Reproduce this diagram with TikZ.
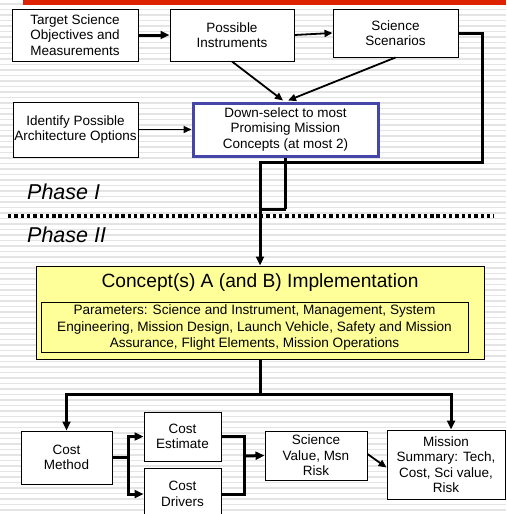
\documentclass[tikz,border=0pt]{standalone}
\usepackage{fontspec}
\setmainfont{Liberation Sans}
\usetikzlibrary{arrows.meta,calc}
\definecolor{stripe}{HTML}{E4E4E4}
\definecolor{topred}{HTML}{DD2200}
\definecolor{selblue}{HTML}{4646A8}
\definecolor{paleyellow}{HTML}{FFFF99}
\tikzset{
  x=1pt,y=-1pt,
  box/.style={draw=black,line width=1pt,fill=white,inner sep=0pt,align=center,
    font=\fontsize{13.5}{15.5}\selectfont},
  tharr/.style={line width=3pt,-{Triangle[length=9pt,width=8pt]}},
  thline/.style={line width=3pt},
  tnarr/.style={line width=1.8pt,-{Triangle[length=8pt,width=7pt]}},
  phase/.style={anchor=west,inner sep=0pt,font=\fontsize{21.5}{24}\selectfont\itshape},
}
\begin{document}
\begin{tikzpicture}
\useasboundingbox (0,0) rectangle (506,514);
\clip (0,0) rectangle (506,514);
\fill[white] (0,0) rectangle (506,514);
\foreach \k in {0,...,93}{
  \fill[stripe] (0,{\k*5.5+3}) rectangle (506,{\k*5.5+4.6});
}
\fill[topred] (23,0) rectangle (506,4.5);

% Phase I boxes
\node[box,minimum width=126,minimum height=52] (tgt) at (75,35) {Target Science\\Objectives and\\Measurements};
\node[box,minimum width=124,minimum height=52] (ins) at (232,35) {Possible\\Instruments};
\node[box,minimum width=125,minimum height=48] (scn) at (395.5,33) {Science\\Scenarios};
\node[box,minimum width=125,minimum height=55] (idf) at (75.5,129.5) {Identify Possible\\Architecture Options};
\node[box,draw=selblue,line width=3pt,minimum width=185,minimum height=53] (dsel) at (285.5,129.5) {Down-select to most\\Promising Mission\\Concepts (at most 2)};

% Phase labels and divider
\node[phase] (ph1) at (27,192) {Phase I};
\node[phase] (ph2) at (27,235) {Phase II};
\coordinate (dl) at (8,216);
\coordinate (dr) at (494,216);

% Phase II
\node[draw=black,line width=1pt,fill=paleyellow,minimum width=448,minimum height=93,inner sep=0pt] (concept) at (260,312.5) {};
\node[inner sep=0pt,font=\fontsize{19.2}{22}\selectfont] (ctitle) at (260,283) {Concept(s) A (and B) Implementation};
\node[draw=black,line width=1pt,minimum width=427,minimum height=50,inner sep=0pt,align=center,
  font=\fontsize{13.6}{16.3}\selectfont] (params) at (254.5,327.5)
  {Parameters: Science and Instrument, Management, System\\Engineering, Mission Design, Launch Vehicle, Safety and Mission\\Assurance, Flight Elements, Mission Operations};

\node[box,minimum width=91,minimum height=53] (cm) at (66.5,457.5) {Cost\\Method};
\node[box,minimum width=77,minimum height=49] (ce) at (182.5,436.5) {Cost\\Estimate};
\node[box,minimum width=77,minimum height=52,text depth=0pt] (cd) at (182.5,494) {Cost\\Drivers};
\node[box,minimum width=102,minimum height=49] (sv) at (316,455.5) {Science\\Value, Msn\\Risk};
\node[box,minimum width=118,minimum height=69] (ms) at (446,464.5) {Mission\\Summary: Tech,\\Cost, Sci value,\\Risk};

% connectors Phase I
\draw[tharr] (tgt.east) -- (ins.west);
\draw[tnarr] (ins.east) -- (scn.west);
\draw[tnarr] (ins.south) -- ($(dsel.north)+(-2.5,-1)$);
\draw[tnarr] (scn.south) -- ($(dsel.north)+(2.5,-1)$);
\draw[tnarr] (idf.east) -- (dsel.west);

\coordinate (j1) at (482,162);
\coordinate (j2) at (260,162);
\coordinate (j3) at (285.5,209);
\coordinate (j4) at (260,209);
\draw[thline] (j3) -- (j4);
\draw[thline] (dsel.south) -- (j3);
\draw[tharr] (scn.east) -| (j1) -- (j2) -- (concept.north);

\draw[line width=4pt,dash pattern=on 3.4pt off 2.9pt] (dl) -- (dr);

% connectors Phase II
\coordinate (hb) at (260,394);
\draw[thline] (concept.south) -- (hb);
\draw[tharr] (hb) -| (cm.north);
\draw[tharr] (hb) -| ($(ms.north)+(5,0)$);

\coordinate (f1) at (128,457.5);
\draw[thline] (cm.east) -- (f1);
\draw[tharr] (f1) |- (ce.west);
\draw[tharr] (f1) |- (cd.west);
\coordinate (f2) at (244,456);
\draw[thline] (ce.east) -| (f2);
\draw[thline] (cd.east) -| (f2);
\draw[tharr] (f2) -- (sv.west);
\draw[tnarr] ($(sv.east)+(0,-1.5)$) -- ($(ms.west)+(0,3)$);
\end{tikzpicture}
\end{document}
